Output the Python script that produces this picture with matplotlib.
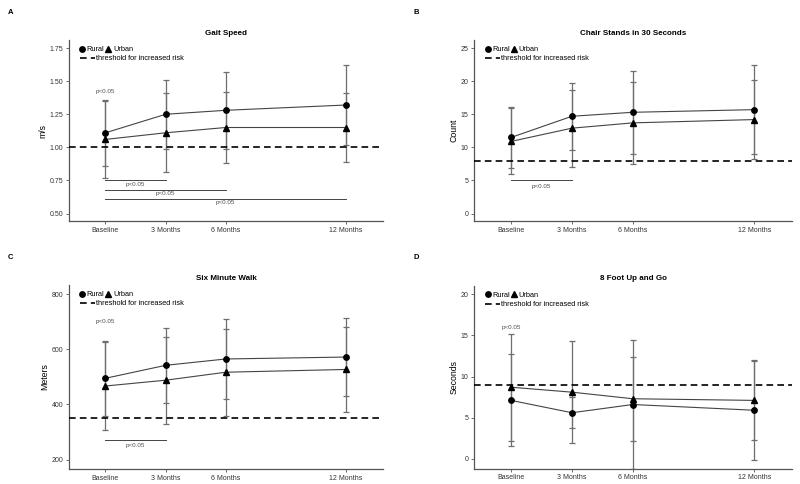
import matplotlib
matplotlib.use("Agg")
import matplotlib.pyplot as plt
from matplotlib.lines import Line2D

plt.rcParams["font.family"] = ["Liberation Sans", "DejaVu Sans"]

# -------------------------------------------------------
# Data
# -------------------------------------------------------
months = [0, 3, 6, 12]
tick_labels = ["Baseline", "3 Months", "6 Months", "12 Months"]

gait_rural    = [1.11, 1.25, 1.28, 1.32]
gait_rural_sd = [0.25, 0.26, 0.29, 0.30]
gait_urban    = [1.06, 1.11, 1.15, 1.15]
gait_urban_sd = [0.29, 0.30, 0.27, 0.26]
gait_thresh   = 1.00

chair_rural    = [11.5, 14.7, 15.3, 15.7]
chair_rural_sd = [4.6, 5.1, 6.3, 6.7]
chair_urban    = [10.9, 12.9, 13.7, 14.2]
chair_urban_sd = [5.0, 5.8, 6.2, 6.0]
chair_thresh   = 8

walk_rural    = [495, 542, 565, 572]
walk_rural_sd = [135, 135, 145, 142]
walk_urban    = [467, 488, 517, 527]
walk_urban_sd = [159, 158, 158, 155]
walk_thresh   = 350

tug_rural    = [7.1, 5.6, 6.6, 5.9]
tug_rural_sd = [5.6, 1.9, 7.8, 6.1]
tug_urban    = [8.7, 8.1, 7.3, 7.1]
tug_urban_sd = [6.5, 6.2, 5.1, 4.8]
tug_thresh   = 9

# significance brackets: (from month, to month, line y)
gait_brackets  = [(0, 3, 0.75), (0, 6, 0.68), (0, 12, 0.61)]
chair_brackets = [(0, 3, 5.0)]
walk_brackets  = [(0, 3, 270)]
tug_brackets   = []
# single p-value labels: (month, y)
gait_plabels  = [(0, 1.42)]
chair_plabels = []
walk_plabels  = [(0, 702)]
tug_plabels   = [(0, 16.0)]

# -------------------------------------------------------
# Plot
# -------------------------------------------------------
fig = plt.figure(figsize=(8, 4.84), dpi=100)

GRAY_BAR  = "#6e6e6e"
GRAY_LINE = "#444444"
TXT_GRAY  = "#4d4d4d"


def draw_panel(rect, letter, title, ylabel, rural, rural_sd, urban, urban_sd,
               thresh, brackets, plabels, ylim, yticks, yfmt, text_off):
    ax = fig.add_axes(rect)
    for vals, sd in ((rural, rural_sd), (urban, urban_sd)):
        ax.errorbar(months, vals, yerr=sd, fmt="none", ecolor=GRAY_BAR,
                    elinewidth=0.9, capsize=2.2, capthick=0.9, zorder=2)
    ax.plot(months, rural, "-", color=GRAY_LINE, lw=0.8, zorder=3)
    ax.plot(months, urban, "-", color=GRAY_LINE, lw=0.8, zorder=3)
    ax.plot(months, rural, "o", color="black", ms=3.9, zorder=4, ls="none")
    ax.plot(months, urban, "^", color="black", ms=4.1, zorder=4, ls="none")
    ax.axhline(thresh, color="black", lw=1.2, ls=(0, (4, 2.5)), zorder=3)

    for x0, x1, y in brackets:
        ax.plot([x0, x1], [y, y], color=GRAY_LINE, lw=0.7, zorder=2)
        ax.text((x0 + x1) / 2, y - text_off, "p<0.05", ha="center", va="center",
                fontsize=4.5, color=TXT_GRAY)
    for x, y in plabels:
        ax.text(x, y, "p<0.05", ha="center", va="center", fontsize=4.5,
                color=TXT_GRAY)

    ax.set_xlim(-1.83, 13.85)
    ax.set_ylim(*ylim)
    ax.set_xticks(months)
    ax.set_xticklabels(tick_labels)
    ax.set_yticks(yticks)
    ax.set_yticklabels([yfmt.format(v) for v in yticks])
    ax.tick_params(labelsize=5, colors="#555555", labelcolor="#333333",
                   length=2, width=0.6, pad=2)
    for s in ("top", "right"):
        ax.spines[s].set_visible(False)
    for s in ("left", "bottom"):
        ax.spines[s].set_color("#555555")
        ax.spines[s].set_linewidth(0.9)
    ax.set_ylabel(ylabel, fontsize=6.3, labelpad=1.5)
    ax.set_title(title, fontsize=5.8, fontweight="bold", pad=4)

    h_r = Line2D([], [], marker="o", color="black", ls="none", ms=3.9)
    h_u = Line2D([], [], marker="^", color="black", ls="none", ms=4.1)
    h_t = Line2D([], [], color="black", lw=1.2, ls=(0, (4, 2.5)))
    leg1 = ax.legend([h_r, h_u], ["Rural", "Urban"], ncol=2, loc="upper left",
                     bbox_to_anchor=(0.035, 0.968), frameon=False, fontsize=5.3,
                     handlelength=0.7, handletextpad=0.25, columnspacing=0.2,
                     borderpad=0, borderaxespad=0)
    ax.add_artist(leg1)
    ax.legend([h_t], ["threshold for increased risk"], loc="upper left",
              bbox_to_anchor=(0.035, 0.918), frameon=False, fontsize=5.3,
              handlelength=2.0, handletextpad=0.2, borderpad=0, borderaxespad=0)

    fig.text(rect[0] - 0.076, rect[1] + rect[3] + 0.058, letter, fontsize=5.5,
             fontweight="bold", ha="left", va="center")
    return ax


draw_panel([0.086, 0.543, 0.393, 0.374], "A", "Gait Speed", "m/s",
           gait_rural, gait_rural_sd, gait_urban, gait_urban_sd, gait_thresh,
           gait_brackets, gait_plabels, (0.442, 1.81),
           [0.50, 0.75, 1.00, 1.25, 1.50, 1.75], "{:.2f}", 0.027)

draw_panel([0.5925, 0.543, 0.3975, 0.374], "B", "Chair Stands in 30 Seconds", "Count",
           chair_rural, chair_rural_sd, chair_urban, chair_urban_sd, chair_thresh,
           chair_brackets, chair_plabels, (-1.16, 26.2),
           [0, 5, 10, 15, 20, 25], "{:d}", 0.85)

draw_panel([0.086, 0.031, 0.393, 0.38], "C", "Six Minute Walk", "Meters",
           walk_rural, walk_rural_sd, walk_urban, walk_urban_sd, walk_thresh,
           walk_brackets, walk_plabels, (166, 833),
           [200, 400, 600, 800], "{:d}", 17)

draw_panel([0.5925, 0.032, 0.3975, 0.377], "D", "8 Foot Up and Go", "Seconds",
           tug_rural, tug_rural_sd, tug_urban, tug_urban_sd, tug_thresh,
           tug_brackets, tug_plabels, (-1.18, 21.0),
           [0, 5, 10, 15, 20], "{:d}", 0.8)

fig.savefig("out.png", dpi=100)
